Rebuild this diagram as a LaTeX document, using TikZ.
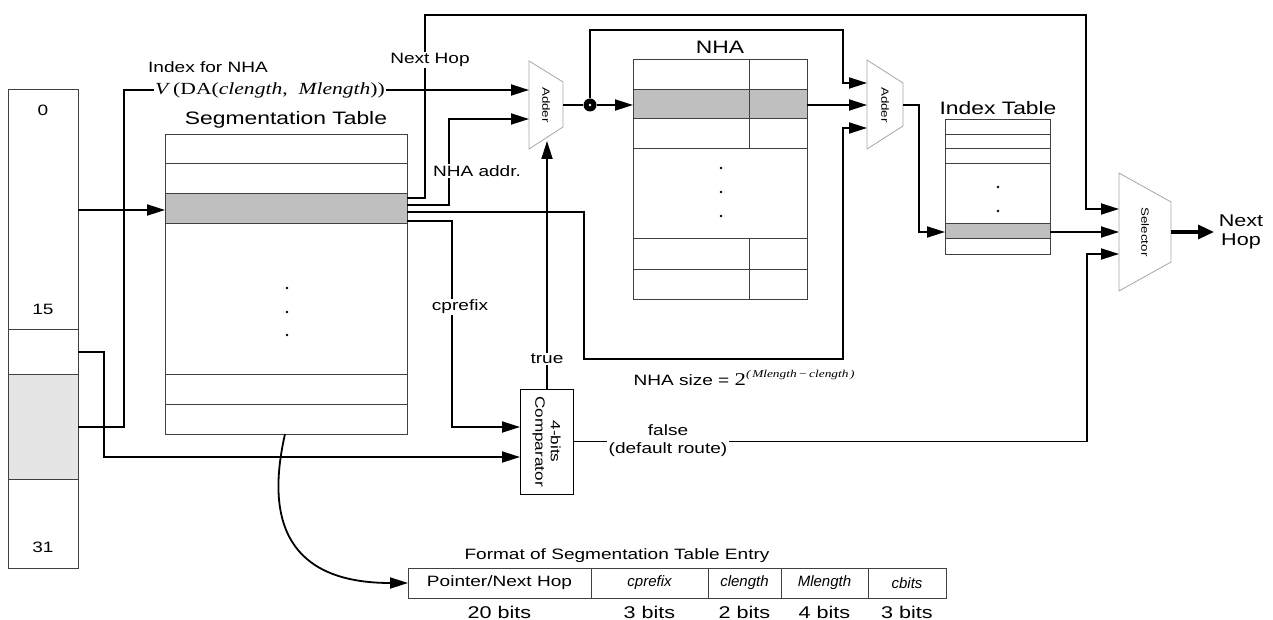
\documentclass[tikz,border=0pt]{standalone}
\usepackage{fontspec}
\setmainfont{Liberation Sans}[FakeStretch=1.27]
\newfontfamily\tmsfont{Liberation Serif}[FakeStretch=1.27]
\newfontfamily\cellfont{Liberation Sans}
\usetikzlibrary{arrows.meta}
\newcommand{\fsz}[2]{\fontsize{#1}{#2}\selectfont}

\begin{document}
\begin{tikzpicture}[
  x=1pt, y=-1pt,
  wire/.style={line width=1.8pt},
  arr/.style={wire, -{Triangle[length=18pt,width=11pt]}},
  tbl/.style={draw=black!75, line width=1pt, inner sep=0pt},
  rowline/.style={draw=black!75, line width=1pt},
  hl/.style={fill=black!25},
  mux/.style={draw=black!35, line width=0.8pt, fill=white},
  title/.style={font=\fsz{18}{21}},
  lbl/.style={font=\fsz{15}{18}, align=center},
  gap/.style={lbl, fill=white, inner sep=1.5pt},
  unitname/.style={font=\fsz{10.5}{12}, rotate=-90},
  cell/.style={font=\cellfont\itshape\fsz{15}{17}}
]
\useasboundingbox (0,0) rectangle (1273,620);

% address register
\fill[black!10] (8,374) rectangle (78,479);
\node[tbl, minimum width=70, minimum height=478] (reg) at (43,329) {};
\foreach \y in {329,374,479} \draw[rowline] (8,\y) -- (78,\y);
\node[lbl] (r0) at (43,110) {0};
\node[lbl] (r15) at (43,309) {15};
\node[lbl] (r31) at (43,547) {31};

% segmentation table
\fill[black!25] (165,194) rectangle (407,224);
\node[tbl, minimum width=242, minimum height=299] (seg) at (286,284.5) {};
\foreach \y in {164,194,224,374,404} \draw[rowline] (165,\y) -- (407,\y);
\foreach \y in {288,312,335} \fill (287,\y) circle (1.3);
\node[title] (segtitle) at (286,120) {Segmentation Table};

% NHA
\fill[black!25] (633,90) rectangle (807,119);
\node[tbl, minimum width=174, minimum height=239] (nha) at (720,179.5) {};
\foreach \y in {90,119,149,239,269} \draw[rowline] (633,\y) -- (807,\y);
\draw[rowline] (749,60) -- (749,149) (749,239) -- (749,299);
\foreach \y in {168,192,216} \fill (721,\y) circle (1.3);
\node[title] (nhatitle) at (720,47) {NHA};

% index table
\fill[black!25] (945,224) rectangle (1050,239);
\node[tbl, minimum width=105, minimum height=134] (idx) at (997.5,187) {};
\foreach \y in {135,149,164,224,239} \draw[rowline] (945,\y) -- (1050,\y);
\foreach \y in {187,211} \fill (998,\y) circle (1.3);
\node[title] (idxtitle) at (998,108) {Index Table};

% adders and selector
\draw[mux] (529,61) -- (563,82) -- (563,127) -- (529,149) -- cycle;
\node[unitname] (add1) at (546,105) {Adder};
\draw[mux] (867,60) -- (903,83) -- (903,126) -- (867,149) -- cycle;
\node[unitname] (add2) at (885,105) {Adder};
\draw[mux] (1119,173) -- (1171,202) -- (1171,262) -- (1119,291) -- cycle;
\node[unitname] (sel) at (1145,232) {Selector};

% comparator
\node[draw, line width=1pt, minimum width=53, minimum height=105, inner sep=0pt] (comp) at (546.5,441.5) {};
\node[font=\fsz{13.5}{15.5}, rotate=-90, align=center] (comptxt) at (comp.center) {4-bits\\Comparator};

% ports
\coordinate (seg-nh) at (407,198);
\coordinate (seg-addr) at (407,205);
\coordinate (seg-size) at (407,212);
\coordinate (seg-cp) at (407,221);
\coordinate (add1-a) at (529,90);
\coordinate (add1-b) at (529,119);
\coordinate (add1-c) at (547,141);
\coordinate (add2-a) at (867,83);
\coordinate (add2-b) at (867,105);
\coordinate (add2-c) at (867,128);
\coordinate (sel-a) at (1119,209);
\coordinate (sel-b) at (1119,232);
\coordinate (sel-c) at (1119,254);
\node[circle, fill, inner sep=0pt, minimum size=13pt] (jn) at (590,105) {};

% connectors
\draw[arr] (78,210) -- (165,210);
\draw[arr] (78,427) -| (124,90) -- (add1-a);
\draw[arr] (78,352) -| (104,457) -- (520,457);
\draw[arr] (seg-nh) -| (425,15) -| (1086,209) -- (sel-a);
\draw[arr] (seg-addr) -| (449,119) -- (add1-b);
\draw[arr] (seg-size) -| (584,359) -| (843,128) -- (add2-c);
\draw[arr] (seg-cp) -| (452,427) -- (520,427);
\draw[arr] (comp.north -| add1-c) -- (add1-c);
\draw[arr] (comp.east) -- (1087,441.5) |- (sel-c);
\draw[wire] (563,105) -- (jn);
\draw[arr] (jn) -- (633,105);
\draw[arr] (jn) |- (843,30) |- (add2-a);
\draw[arr] (807,105) -- (add2-b);
\draw[arr] (903,105) -| (919,232) -- (945,232);
\draw[arr] (1050,232) -- (sel-b);
\draw[line width=3.2pt, -{Triangle[length=16pt,width=14pt]}] (1171,232) -- (1214,232);
\draw[arr] (285,434) .. controls (262,535) and (300,583) .. (408,583);
\fill[white] (jn) circle (1.3);

% labels on wires
\node[lbl] (idxnha) at (208,67) {Index for NHA};
\node[gap] (vda) at (270,90) {\tmsfont\fsz{17}{20}\textit{V}\,(DA(\textit{clength},\ \ \textit{Mlength}))};
\node[gap] (nhlbl) at (430,60) {Next Hop};
\node[gap] (addrlbl) at (477,171) {NHA addr.};
\node[gap] (cplbl) at (460,307) {cprefix};
\node[gap] (truelbl) at (547,359) {true};
\node[gap] (falselbl) at (668,441) {false\\(default route)};
\node[lbl, anchor=west] (nhasize) at (630,378) {NHA size = {\tmsfont\fsz{18}{20}2}\raisebox{8pt}{\tmsfont\fsz{10.5}{12}\itshape(\,Mlength\,−\,clength\,)}};
\node[font=\fsz{17}{19}, align=center] (outlbl) at (1241,232) {Next\\Hop};

% entry format
\node[lbl] (fmttitle) at (617,556) {Format of Segmentation Table Entry};
\node[tbl, minimum width=538, minimum height=30] (fmt) at (677,583) {};
\foreach \x in {591,708,781,868} \draw[rowline] (\x,568) -- (\x,598);
\node[lbl] (f1) at (499.5,583) {Pointer/Next Hop};
\node[cell] (f2) at (649.5,583) {cprefix};
\node[cell] (f3) at (744.5,583) {clength};
\node[cell] (f4) at (824.5,583) {Mlength};
\node[cell] (f5) at (907,583) {cbits};
\foreach \x/\t in {499.5/20, 649.5/3, 744.5/2, 824.5/4, 907/3}
  \node[font=\fsz{17}{19}] at (\x,612) {\t\ bits};
\end{tikzpicture}
\end{document}
